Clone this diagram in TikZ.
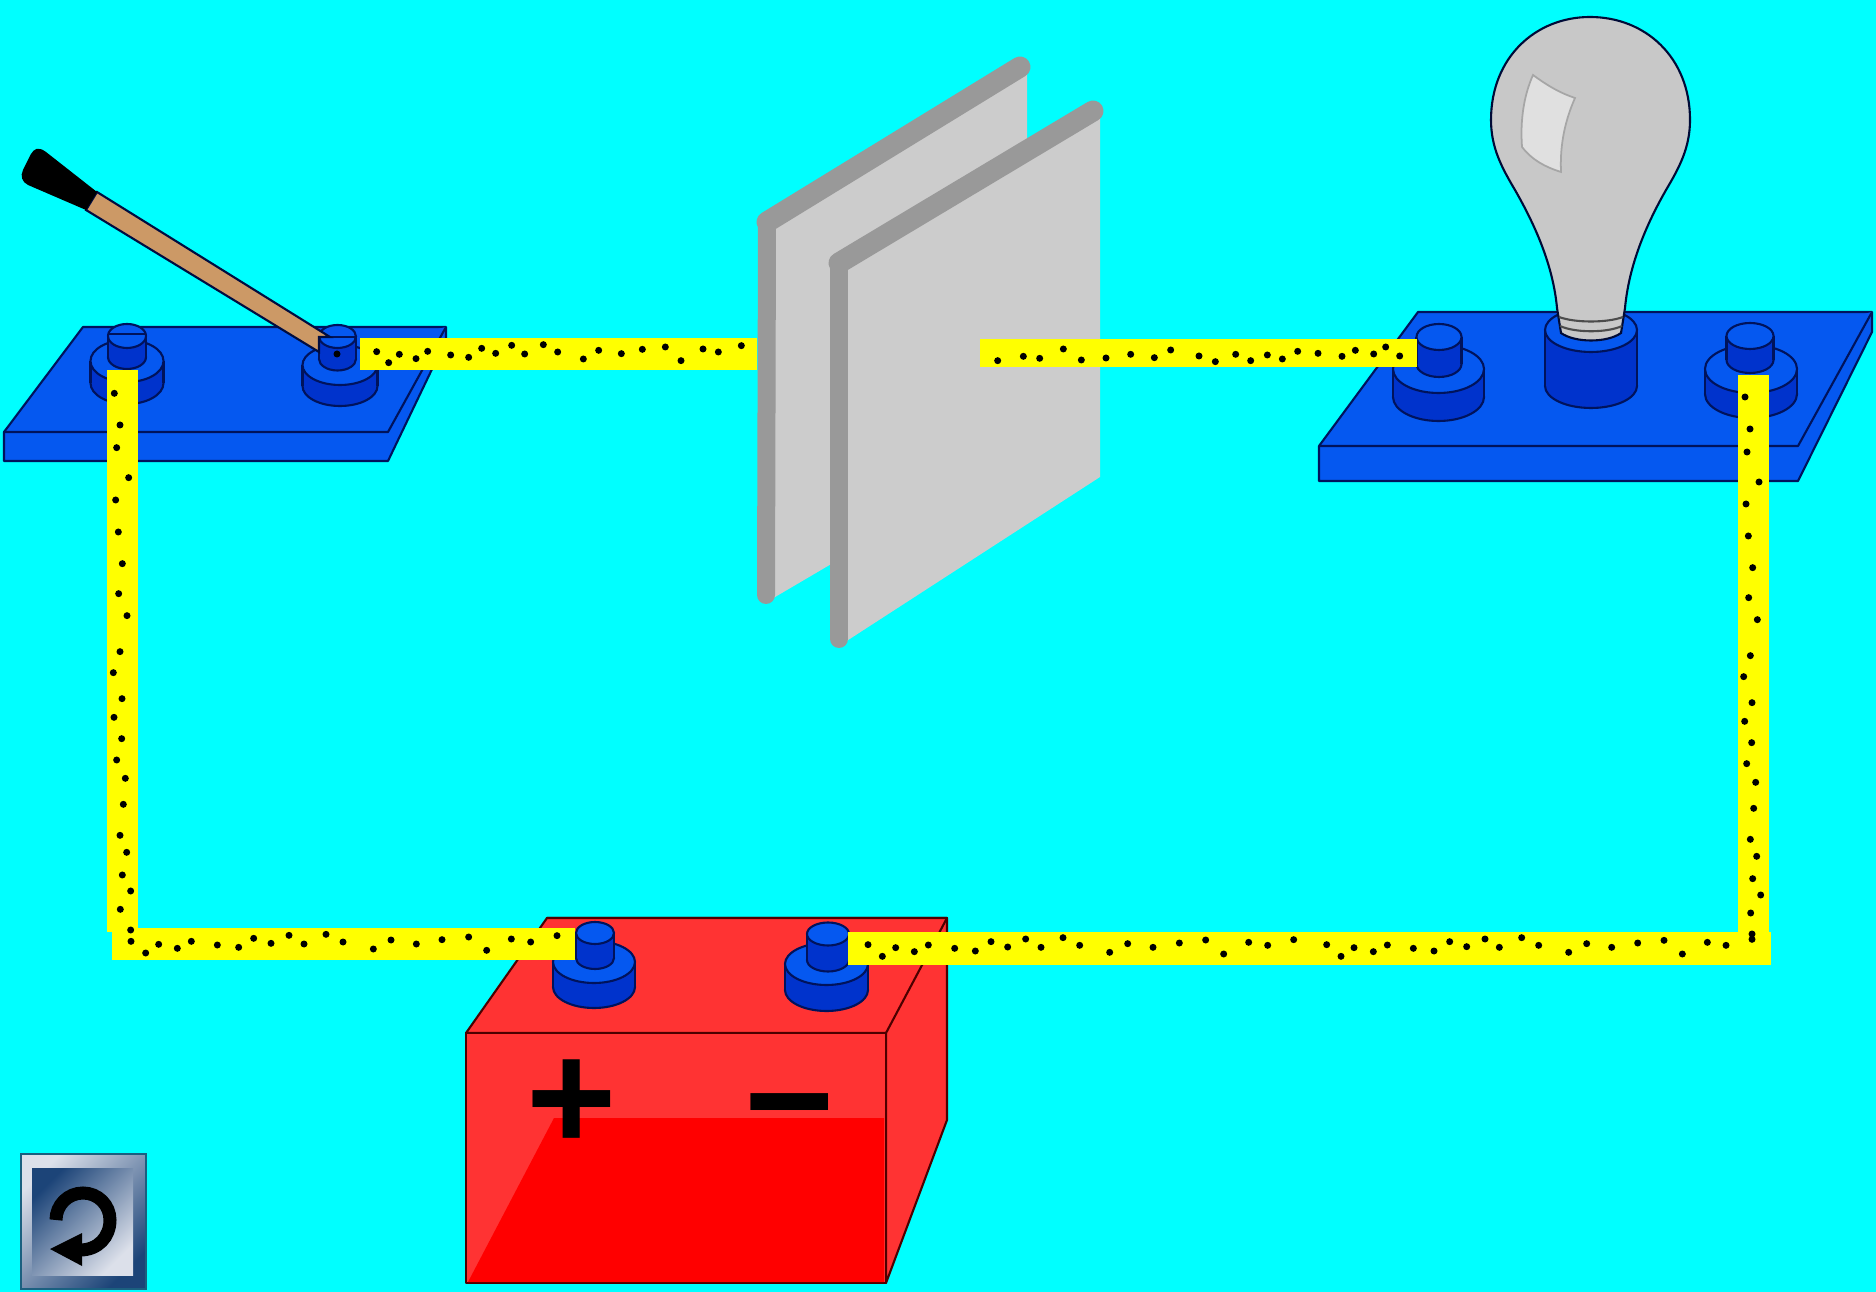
\documentclass[tikz,border=0pt]{standalone}
\usepackage{xcolor}
\usepackage{fontspec}
\setmainfont{Liberation Sans}
\usepackage{tikz}
\definecolor{skyCyan}{HTML}{00FFFF}
\definecolor{wireYellow}{HTML}{FFFF00}
\definecolor{boardBlue}{HTML}{0558F0}
\definecolor{studLight}{HTML}{0558F0}
\definecolor{studDark}{HTML}{0033CC}
\definecolor{edgeNavy}{HTML}{00135C}
\definecolor{plateFace}{HTML}{CCCCCC}
\definecolor{plateEdge}{HTML}{999999}
\definecolor{batteryLight}{HTML}{FF3333}
\definecolor{batteryRed}{HTML}{FF0000}
\definecolor{handleTan}{HTML}{CC9966}
\definecolor{bulbGrey}{HTML}{C8C8C8}
\definecolor{buttonDark}{HTML}{1C4478}
\definecolor{buttonLight}{HTML}{DCE0EA}
\definecolor{buttonEdge}{HTML}{1A6080}
\newcommand{\drawstud}[5]{%
  \draw[studedge,fill=studDark] (#1,#3) ellipse [x radius=#4,y radius=#5];
  \fill[studDark] ({#1-#4},#2) rectangle ({#1+#4},#3);
  \draw[studedge] ({#1-#4},#2) -- ({#1-#4},#3) ({#1+#4},#2) -- ({#1+#4},#3);
  \draw[studedge,fill=studLight] (#1,#2) ellipse [x radius=#4,y radius=#5];
}
\newcommand{\wiredots}[3]{%
  \foreach \x/\y in {#3} \fill[black] ({#1+\x/3},{#2+\y/3}) circle (3.5);
}
\begin{document}
\begin{tikzpicture}[
  x=0.01cm,y=-0.01cm,
  studedge/.style={draw=edgeNavy,line width=.6pt},
  board/.style={draw=edgeNavy,line width=.6pt,fill=boardBlue,line join=round},
  wire/.style={draw=wireYellow,line width=#1*0.01cm},
  plateface/.style={fill=plateFace},
  plateedge/.style={draw=plateEdge,line width=#1*0.01cm,line cap=round,line join=round},
  battery/.style={draw=black!70!red,line width=.6pt,fill=batteryLight,line join=round},
  sign/.style={font=\bfseries\fontsize{44}{44}\selectfont,inner sep=0pt,text=black}
]
\useasboundingbox (0,0) rectangle (1876,1292);
\fill[skyCyan] (0,0) rectangle (1876,1292);

% switch board
\draw[board] (83,327) -- (446,327) -- (446,340) -- (388,461) -- (4,461) -- (4,432) -- cycle;
\draw[board] (4,432) -- (388,432) -- (446,327);
\drawstud{127}{361}{383}{36.5}{21}
\drawstud{127}{336}{357}{19}{12}
\draw[studedge] (108,334) -- (146,334);
\drawstud{340}{365}{386}{37.5}{20}
\drawstud{337.5}{336.5}{359}{18.5}{11.5}
\draw[studedge] (319,337) -- (356,337);
\fill[black] (337,354) circle (3.5);
% lever
\draw[line width=.6pt,draw=edgeNavy!70!black,fill=handleTan] (97,192) -- (330,337) -- (319,337) -- (319,352) -- (86,210) -- cycle;
\fill[black] (97,192) -- (46,152) .. controls (38,146) and (34,149) .. (31,154) -- (23,170) .. controls (20,176) and (22,182) .. (28,185) -- (86,210) -- cycle;

% lamp board
\draw[board] (1418,312) -- (1872,312) -- (1872,332) -- (1798,481) -- (1319,481) -- (1319,446) -- cycle;
\draw[board] (1319,446) -- (1798,446) -- (1872,312);
\drawstud{1438.5}{369}{397}{45.5}{24}
\drawstud{1439}{337}{364}{22.5}{13}
\drawstud{1751}{369}{394}{46}{24}
\drawstud{1750}{336}{360}{23.5}{13}
\drawstud{1591}{330}{386}{46}{22}
% bulb
\draw[line width=.6pt,draw=edgeNavy!60!black,fill=bulbGrey] (1557,308) -- (1561,333) .. controls (1575,343) and (1607,343) .. (1621,333) -- (1625,308) .. controls (1629,265) and (1646,225) .. (1666,190) .. controls (1679,168) and (1690,148) .. (1690,120) .. controls (1690,57) and (1645,17) .. (1590,17) .. controls (1536,17) and (1491,57) .. (1491,120) .. controls (1491,148) and (1502,168) .. (1515,190) .. controls (1535,225) and (1553,265) .. (1557,308) -- cycle;
\draw[line width=.6pt,draw=black!70] (1559,317) .. controls (1575,323) and (1607,323) .. (1623,317);
\draw[line width=.6pt,draw=black!70] (1560,326) .. controls (1575,333) and (1607,333) .. (1622,326);
\draw[line width=.5pt,draw=black!35,fill=black!12] (1533,75) .. controls (1548,86) and (1560,93) .. (1575,98) .. controls (1563,125) and (1560,150) .. (1561,172) .. controls (1545,167) and (1532,160) .. (1522,147) .. controls (1520,120) and (1524,95) .. (1533,75) -- cycle;

% battery
\draw[battery] (547,918) -- (947,918) -- (947,1120) -- (886,1283) -- (886,1033) -- cycle;
\draw[battery] (466,1033) -- (547,918) -- (947,918) -- (886,1033) -- cycle;
\draw[battery] (466,1033) rectangle (886,1283);
\fill[batteryRed] (554,1118) -- (884,1118) -- (884,1282) -- (468,1282) -- cycle;
\node[sign] (plus) at (572,1105) {+};
\node[sign] (minus) at (790,1124) {−};
\drawstud{594}{962}{987}{41}{21}
\drawstud{595}{933}{958}{19}{11}
\drawstud{826.5}{964}{990}{41.5}{21}
\drawstud{828}{934}{960}{21}{11.5}

% wire ends
\coordinate (swOutA) at (360,354.5);
\coordinate (capInA) at (757,354.5);
\coordinate (capInB) at (980,353.5);
\coordinate (lampInA) at (1417,353.5);
\coordinate (swOutB) at (122.5,370);
\coordinate (cornerA) at (122.5,932);
\coordinate (cornerAh) at (112,944);
\coordinate (battPlus) at (575,944);
\coordinate (battMinus) at (848,948);
\coordinate (cornerBh) at (1771,948);
\coordinate (cornerB) at (1753.5,934);
\coordinate (lampInB) at (1753.5,375);

\draw[wire=32] (swOutA) -- (capInA);
\draw[wire=31] (swOutB) -- (cornerA);
\draw[wire=32] (cornerAh) -- (battPlus);
\draw[wire=33] (battMinus) -- (cornerBh);
\draw[wire=31] (lampInB) -- (cornerB);

% capacitor plates
\fill[plateface] (770,226) -- (1027,70) -- (1027,449) -- (770,600) -- cycle;
\draw[plateedge=18] (767,222) -- (766,595);
\draw[plateedge=21] (1020,67) -- (767,222);
\fill[plateface] (842,273) -- (1100,112) -- (1100,477) -- (842,644) -- cycle;
\draw[plateedge=18] (839,263) -- (839,639);
\draw[plateedge=21] (1093,111) -- (839,263);
\draw[wire=28] (capInB) -- (lampInA);

% charges
\wiredots{350}{320}{80/95,116/128,148/103,198/116,233/94,302/105,356/112,395/85,437/100,485/76,524/102,580/74,623/96,700/117,746/91,814/101,877/88,946/81,993/122,1059/87,1105/96,1174/77}
\wiredots{970}{320}{83/122,160/109,209/115,280/87,334/120,408/114,482/103,553/113,602/90,687/108,736/125,797/103,842/122,892/105,937/117,983/94,1044/100,1116/109,1156/91,1211/102,1247/81,1289/108}
\wiredots{100}{920}{93/64,137/99,176/73,232/85,274/64,352/75,416/82,461/55,513/70,567/46,612/72,678/43,729/66,820/87,873/60,949/72,1026/59,1106/51,1160/91,1234/57,1292/66,1371/47}
\wiredots{840}{920}{84/74,127/109,167/83,223/95,265/75,344/85,406/93,453/65,503/81,557/57,603/82,669/53,719/76,809/97,863/71,939/82,1018/69,1097/60,1151/102,1226/67,1283/76,1361/59}
\wiredots{1300}{920}{80/74,123/109,162/83,220/95,262/75,340/85,402/93,449/65,500/80,555/57,598/82,665/53,716/76,806/97,860/71,935/82,1013/69,1092/61,1147/102,1222/67,1278/76,1356/58}
\wiredots{0}{130}{343/790,360/885,350/953}
\wiredots{90}{470}{116/23,77/90,85/186,97/281,86/371,111/437,90/545,70/608,96/686,72/742,95/806,80/870,106/925,100/1003,90/1096,110/1147,97/1215,122/1263,91/1318,122/1380}
\wiredots{1720}{470}{117/36,78/102,85/198,98/293,86/383,112/449,91/557,71/620,96/698,74/754,95/818,80/881,107/937,101/1015,91/1108,110/1159,98/1226,122/1275,92/1329,96/1392}
\wiredots{1700}{350}{135/141,150/237,141/306}

% reset button
\draw[draw=buttonEdge,line width=.6pt,top color=buttonLight,bottom color=buttonDark,shading angle=45] (21,1154) rectangle (146,1289);
\shade[top color=buttonDark,bottom color=buttonLight,shading angle=45] (32,1168) rectangle (133,1275);
\draw[black,line width=.13cm] (56,1220) .. controls (56,1205) and (68,1193) .. (83,1193) .. controls (98,1193) and (110,1205) .. (110,1220) .. controls (110,1237) and (98,1250) .. (80,1250);
\fill[black] (50,1249) -- (82,1233) -- (82,1266) -- cycle;
\end{tikzpicture}
\end{document}
